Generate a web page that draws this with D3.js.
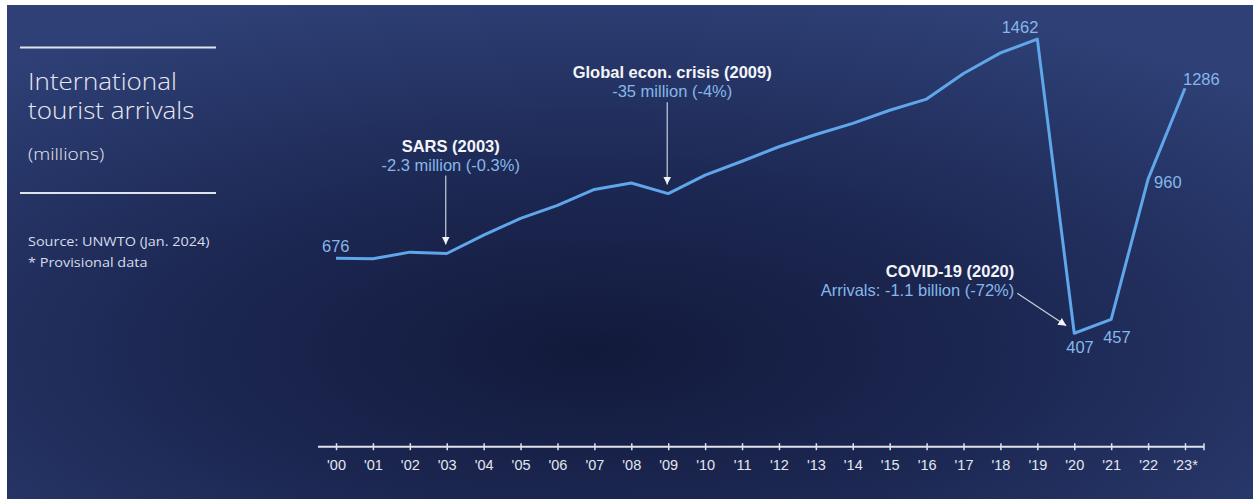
<!DOCTYPE html>
<html>
<head>
<meta charset="utf-8">
<script src="https://cdn.jsdelivr.net/npm/d3@7"></script>
<style>
  html, body { margin: 0; padding: 0; background: #fff; }
  svg { display: block; }
</style>
</head>
<body>
<div id="chart"></div>
<script>
// international tourist arrivals, millions
const years = [2000, 2001, 2002, 2003, 2004, 2005, 2006, 2007, 2008, 2009, 2010, 2011,
               2012, 2013, 2014, 2015, 2016, 2017, 2018, 2019, 2020, 2021, 2022, 2023];
const arrivals = [676, 674, 698, 693, 759, 819, 866, 923, 946, 908, 974, 1024,
                  1076, 1120, 1160, 1207, 1247, 1339, 1413, 1462, 407, 457, 960, 1286];
const tickLabels = ["'00", "'01", "'02", "'03", "'04", "'05", "'06", "'07", "'08", "'09", "'10", "'11",
                    "'12", "'13", "'14", "'15", "'16", "'17", "'18", "'19", "'20", "'21", "'22", "'23*"];
const labelledYears = [2000, 2019, 2020, 2021, 2022, 2023];
const eventYears = [2003, 2009, 2020];
const eventTitles = ["SARS (2003)", "Global econ. crisis (2009)", "COVID-19 (2020)"];
const eventNotes = ["-2.3 million (-0.3%)", "-35 million (-4%)", "Arrivals: -1.1 billion (-72%)"];
const titleLines = ["International", "tourist arrivals"];
const unitText = "(millions)";
const sourceLines = ["Source: UNWTO (Jan. 2024)", "* Provisional data"];

const W = 1253, H = 499;
const lineColor = "#5fa6ea", labelColor = "#86b7ea";

const svg = d3.select("#chart").append("svg")
    .attr("width", W)
    .attr("height", H);

const defs = svg.append("defs");
const bg = defs.append("radialGradient")
    .attr("id", "bg")
    .attr("cx", "47%").attr("cy", "70%").attr("r", "75%");
bg.append("stop").attr("offset", "0%").attr("stop-color", "#121a3b");
bg.append("stop").attr("offset", "45%").attr("stop-color", "#1c2752");
bg.append("stop").attr("offset", "100%").attr("stop-color", "#2e4076");

defs.append("marker")
    .attr("id", "head")
    .attr("viewBox", "0 0 10 10")
    .attr("refX", 10).attr("refY", 5)
    .attr("markerWidth", 8).attr("markerHeight", 8)
    .attr("markerUnits", "userSpaceOnUse")
    .attr("orient", "auto")
  .append("path")
    .attr("d", "M0,0 L10,5 L0,10 Z")
    .attr("fill", "#f2f4f8");

svg.append("rect")
    .attr("x", 7).attr("y", 5)
    .attr("width", W - 7).attr("height", H - 5)
    .attr("fill", "url(#bg)");

// left panel
[47.5, 193].forEach(yy => {
    svg.append("line")
        .attr("x1", 20).attr("x2", 216)
        .attr("y1", yy).attr("y2", yy)
        .attr("stroke", "#dfe3ec").attr("stroke-width", 2);
});
// the source picture is a little stretched sideways
const side = svg.append("g")
    .attr("transform", "translate(28,0) scale(1.13,1)")
    .attr("fill", "#e6e9f1");
titleLines.forEach((t, i) => {
    side.append("text")
        .attr("x", 0).attr("y", 90 + i * 29)
        .style("font", "300 23px 'Open Sans'")
        .text(t);
});
side.append("text")
    .attr("x", 0).attr("y", 160)
    .style("font", "300 17px 'Open Sans'")
    .text(unitText);
sourceLines.forEach((t, i) => {
    side.append("text")
        .attr("x", 0).attr("y", 246 + i * 21)
        .style("font", "400 12.8px 'Open Sans'")
        .attr("fill", "#d6dcea")
        .text(t);
});

// scales
const x = d3.scaleLinear()
    .domain([2000, 2023])
    .range([336, 1185]);
const y = d3.scaleLinear()
    .domain([0, 1600])
    .range([446.7, 0.7]);

// axis
const axisG = svg.append("g")
    .attr("transform", `translate(0,${y(0)})`);
axisG.call(d3.axisBottom(x)
        .tickValues(years)
        .tickFormat((d, i) => tickLabels[i])
        .tickSizeInner(4)
        .tickSizeOuter(0)
        .tickPadding(9));
axisG.select(".domain").remove();
axisG.append("line")
    .attr("x1", x(2000) - 18).attr("x2", x(2023) + 19)
    .attr("stroke", "#dfe3ee").attr("stroke-width", 2);
axisG.selectAll(".tick line")
    .attr("y1", -3.5).attr("y2", 3.5)
    .attr("stroke", "#dfe3ee").attr("stroke-width", 1.5);
axisG.append("line")
    .attr("x1", x(2023) + 19).attr("x2", x(2023) + 19)
    .attr("y1", -3.5).attr("y2", 3.5)
    .attr("stroke", "#dfe3ee").attr("stroke-width", 1.5);
axisG.selectAll(".tick text")
    .attr("fill", "#e2e6ef")
    .style("font", "14.5px 'Liberation Sans', Arial, sans-serif");

// series
const pts = years.map((yr, i) => [yr, arrivals[i]]);
svg.append("path")
    .datum(pts)
    .attr("fill", "none")
    .attr("stroke", lineColor)
    .attr("stroke-width", 3)
    .attr("stroke-linejoin", "round")
    .attr("d", d3.line().x(d => x(d[0])).y(d => y(d[1])));

// value labels
const valOffset = {
    2000: [-14, -6, "start"],
    2019: [1, -6, "end"],
    2020: [-8, 20, "start"],
    2021: [-8, 24, "start"],
    2022: [6, 9, "start"],
    2023: [-2, -3, "start"]
};
svg.append("g").selectAll("text")
    .data(labelledYears)
    .join("text")
    .attr("x", d => x(d) + valOffset[d][0])
    .attr("y", d => y(arrivals[years.indexOf(d)]) + valOffset[d][1])
    .attr("text-anchor", d => valOffset[d][2])
    .attr("fill", labelColor)
    .style("font", "16.5px 'Liberation Sans', Arial, sans-serif")
    .text(d => arrivals[years.indexOf(d)]);

// event annotations
const font = "'Liberation Sans', Arial, sans-serif";
const ann = svg.append("g");
eventYears.forEach((yr, i) => {
    const px = x(yr), py = y(arrivals[years.indexOf(yr)]);
    let tx, anchor, ty, ax1, ay1, ax2, ay2;
    if (i < 2) {
        tx = px + 4; anchor = "middle";
        ty = i === 0 ? 151.5 : 78.3;
        ax1 = px - 1; ay1 = ty + 24;
        ax2 = px - 1; ay2 = py - 9;
    } else {
        tx = px - 60; anchor = "end";
        ty = 276.7;
        ax1 = tx + 3; ay1 = ty + 16.5;
        ax2 = px - 8; ay2 = py - 7.5;
    }
    ann.append("text")
        .attr("x", tx).attr("y", ty)
        .attr("text-anchor", anchor)
        .attr("fill", "#f3f5f9")
        .style("font", `bold 16.5px ${font}`)
        .text(eventTitles[i]);
    ann.append("text")
        .attr("x", tx).attr("y", ty + 19)
        .attr("text-anchor", anchor)
        .attr("fill", labelColor)
        .style("font", `16.5px ${font}`)
        .text(eventNotes[i]);
    ann.append("line")
        .attr("x1", ax1).attr("y1", ay1)
        .attr("x2", ax2).attr("y2", ay2)
        .attr("stroke", "#c9cfdc").attr("stroke-width", 1.2)
        .attr("marker-end", "url(#head)");
});
</script>
</body>
</html>
